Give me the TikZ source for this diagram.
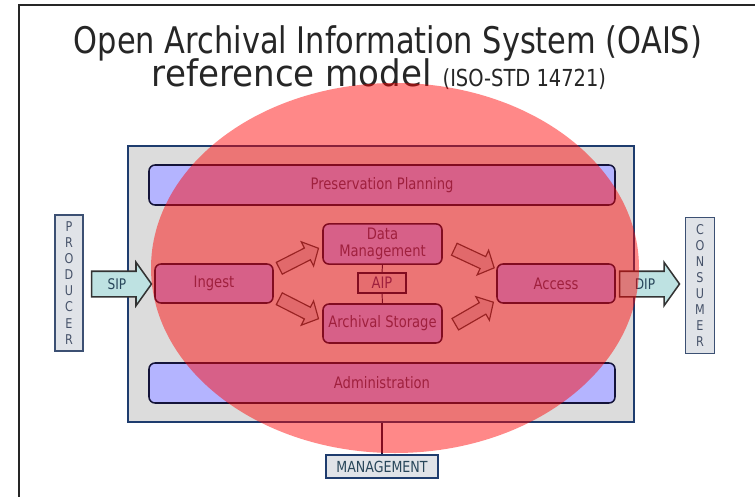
\documentclass[tikz,border=0pt]{standalone}
\usepackage{fontspec}
\setmainfont{DejaVu Sans}[FakeStretch=0.83]
\newfontfamily\widefont{DejaVu Sans}[FakeStretch=0.93]
\usetikzlibrary{shapes.arrows,calc}

\definecolor{boxgray}{RGB}{220,220,220}
\definecolor{framenavy}{RGB}{30,60,110}
\definecolor{lavender}{RGB}{180,180,255}
\definecolor{darkline}{RGB}{20,20,58}
\definecolor{labeltext}{RGB}{75,58,114}
\definecolor{sidegray}{RGB}{224,227,232}
\definecolor{sideline}{RGB}{60,80,115}
\definecolor{sidetext}{RGB}{70,82,105}
\definecolor{pipecyan}{RGB}{190,226,226}
\definecolor{pipetext}{RGB}{40,70,90}
\definecolor{flowgray}{RGB}{200,196,200}
\definecolor{overlayred}{RGB}{255,3,3}

\newcommand{\labelfont}{\fontsize{13.5}{15}\selectfont}

\begin{document}
\begin{tikzpicture}[x=0.3mm, y=-0.3mm,
  panel/.style={draw=darkline, line width=1.3pt, fill=lavender, rounded corners=1.8mm,
    text=labeltext, font=\labelfont, align=center},
  entity/.style={draw=sideline, line width=1.3pt, fill=sidegray, text=sidetext,
    align=center, inner sep=0pt},
  pipe/.style={single arrow, draw=black!80, line width=1.3pt, fill=pipecyan,
    text=pipetext, font=\fontsize{12.5}{14}\selectfont, anchor=tail,
    inner xsep=0pt, inner ysep=2mm, text height=3.2mm, text depth=0pt,
    minimum height=18mm, single arrow head extend=2.7mm, single arrow tip angle=109},
  flow/.style={single arrow, draw=black!75, line width=1pt, fill=flowgray,
    inner xsep=0pt, inner ysep=1.8mm, anchor=tail, minimum height=13.2mm,
    single arrow head extend=2.1mm, single arrow tip angle=95},
]
  \useasboundingbox[fill=white] (0,0) rectangle (755,497);

  % frame of the screenshot
  \draw[line width=2.2pt, black!85] (19,497) -- (19,5) -- (755,5);

  % title
  \node[anchor=base, font=\fontsize{31.3}{36}\selectfont, text=black!85] (title)
    at (388,54) {Open Archival Information System (OAIS)};
  \node[anchor=base, font=\widefont\fontsize{31.3}{36}\selectfont, text=black!85] (subtitle)
    at (379,87) {reference model {\rmfamily\fontsize{20}{24}\selectfont (ISO-STD 14721)}};

  % the archive
  \node[draw=framenavy, line width=1.7pt, fill=boxgray,
    minimum width=506*0.3mm, minimum height=276*0.3mm] (oais) at (381,284) {};

  \node[panel, minimum width=466*0.3mm, minimum height=40*0.3mm] (planning)
    at (382,185) {Preservation Planning};
  \node[panel, minimum width=466*0.3mm, minimum height=40*0.3mm] (admin)
    at (382,383) {Administration};

  \node[panel, minimum width=118*0.3mm, minimum height=39*0.3mm] (ingest)
    at (214,283.5) {Ingest};
  \node[panel, minimum width=119*0.3mm, minimum height=40*0.3mm] (datamgmt)
    at (382.5,244) {Data\\Management};
  \node[panel, minimum width=119*0.3mm, minimum height=39*0.3mm] (storage)
    at (382.5,323.5) {Archival Storage};
  \node[panel, minimum width=118*0.3mm, minimum height=39*0.3mm] (access)
    at (556,283.5) {Access};
  \node[panel, rounded corners=0pt, fill=flowgray!85!white, line width=1pt,
    minimum width=48*0.3mm, minimum height=20*0.3mm] (aip) at (382,283) {AIP};

  \draw[darkline, line width=0.8pt] (datamgmt.south) -- (aip.north)
                                    (aip.south) -- (storage.north);

  % flows inside
  \node[flow, rotate=27]  (ingestdm)    at ($(ingest.east)+(5,-15)$) {};
  \node[flow, rotate=-27] (ingeststore) at ($(ingest.east)+(5,15)$) {};
  \node[flow, rotate=-25] (dmaccess)    at ($(datamgmt.east)+(11,5)$) {};
  \node[flow, rotate=30]  (storeaccess) at ($(storage.east)+(12,1)$) {};

  % outside world
  \node[entity, minimum width=28*0.3mm, minimum height=136*0.3mm,
    font=\fontsize{11.5}{13.7}\selectfont] (producer) at (69,283)
    {P\\R\\O\\D\\U\\C\\E\\R};
  \node[entity, minimum width=29*0.3mm, minimum height=136*0.3mm,
    font=\fontsize{11.5}{13.7}\selectfont] (consumer) at (700,285.5)
    {C\\O\\N\\S\\U\\M\\E\\R};

  \node[pipe] (sip) at ($(producer.east)+(7,1)$) {SIP};
  \node[pipe] (dip) at ($(access.east)+(3,0.5)$) {DIP};

  \node[entity, draw=framenavy, minimum width=112*0.3mm, minimum height=23*0.3mm,
    font=\fontsize{13}{14}\selectfont, text=pipetext] (management)
    at (382,466.5) {MANAGEMENT};
  \draw[darkline, line width=1.5pt] (management.north) -- (management.north |- oais.south);

  % red oval laid over it
  \fill[overlayred, fill opacity=0.47] (395,268) ellipse [x radius=73.2mm, y radius=55.5mm];
\end{tikzpicture}
\end{document}
